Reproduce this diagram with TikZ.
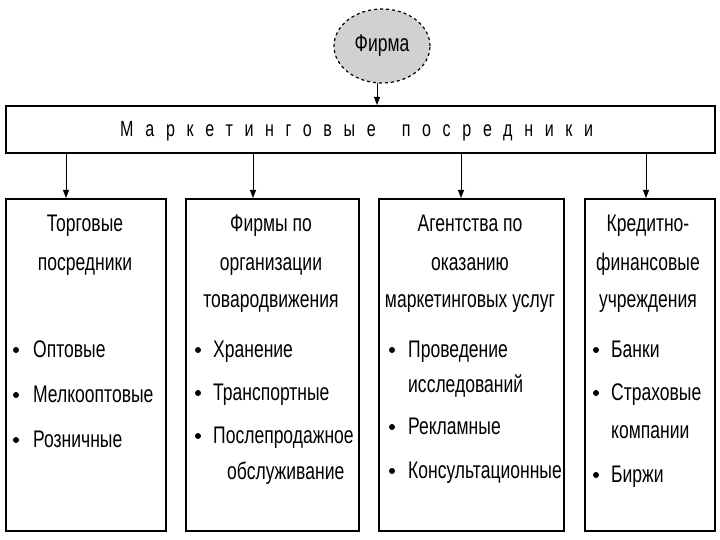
\documentclass[tikz,border=0pt]{standalone}
\usepackage{fontspec}
\setmainfont{Liberation Sans}[FakeStretch=0.73]
\usetikzlibrary{arrows.meta,shapes.geometric}
\begin{document}
\begin{tikzpicture}[x=1pt,y=-1pt,
  box/.style={draw=black,line width=1.6pt},
  txt/.style={inner sep=0pt,anchor=base,font=\fontsize{24}{28}\selectfont},
  itm/.style={inner sep=0pt,anchor=base west,font=\fontsize{24}{28}\selectfont},
  bul/.style={circle,fill=black,inner sep=0pt,minimum size=6pt},
  arr/.style={-{Triangle[length=8pt,width=6pt]},line width=0.8pt}]
\useasboundingbox (0,0) rectangle (720,540);
% firm ellipse
\node[ellipse,draw=black,dashed,line width=1.2pt,fill=black!18,minimum width=96pt,minimum height=74pt,inner sep=0pt,font=\fontsize{24}{28}\selectfont] (firm) at (382,46) {Фирма};
% top box
\node[box,minimum width=709pt,minimum height=47pt,inner sep=0pt,anchor=north west] (top) at (5,105) {};
\node[inner sep=0pt,anchor=base west,font=\fontsize{22}{26}\selectfont\addfontfeature{LetterSpace=53}] (title) at (120,137) {Маркетинговые\hspace{26pt}посредники};
\coordinate (ftop) at (377,105);
\draw[arr] (377,83) -- (ftop);
% bottom boxes
\node[box,minimum width=160pt,minimum height=332pt,inner sep=0pt,anchor=north west] (b1) at (5,198) {};
\node[box,minimum width=173pt,minimum height=332pt,inner sep=0pt,anchor=north west] (b2) at (185,198) {};
\node[box,minimum width=185pt,minimum height=332pt,inner sep=0pt,anchor=north west] (b3) at (378,198) {};
\node[box,minimum width=130pt,minimum height=332pt,inner sep=0pt,anchor=north west] (b4) at (584,198) {};
\draw[arr] (top.south -| 66,0) -- (b1.north -| 66,0);
\draw[arr] (top.south -| 253,0) -- (b2.north -| 253,0);
\draw[arr] (top.south -| 461,0) -- (b3.north -| 461,0);
\draw[arr] (top.south -| 646,0) -- (b4.north -| 646,0);
% box 1
\node[txt] (t11) at (85,232) {Торговые};
\node[txt] (t12) at (85,270) {посредники};
\node[bul] (p11) at (16,350) {}; \node[itm] (i11) at (33,357) {Оптовые};
\node[bul] (p12) at (16,395) {}; \node[itm] (i12) at (33,402) {Мелкооптовые};
\node[bul] (p13) at (16,440) {}; \node[itm] (i13) at (33,447) {Розничные};
% box 2
\node[txt] (t21) at (271,232) {Фирмы по};
\node[txt] (t22) at (271,270) {организации};
\node[txt] (t23) at (271,307) {товародвижения};
\node[bul] (p21) at (198,350) {}; \node[itm] (i21) at (213,357) {Хранение};
\node[bul] (p22) at (198,393) {}; \node[itm] (i22) at (213,400) {Транспортные};
\node[bul] (p23) at (198,436) {}; \node[itm] (i23) at (213,443) {Послепродажное};
\node[itm] (i24) at (227,479) {обслуживание};
% box 3
\node[txt] (t31) at (470,232) {Агентства по};
\node[txt] (t32) at (470,270) {оказанию};
\node[txt] (t33) at (470,307) {маркетинговых услуг};
\node[bul] (p31) at (392,350) {}; \node[itm] (i31) at (408,357) {Проведение};
\node[itm] (i32) at (408,392) {исследований};
\node[bul] (p33) at (392,427) {}; \node[itm] (i33) at (408,434) {Рекламные};
\node[bul] (p34) at (392,471) {}; \node[itm] (i34) at (408,478) {Консультационные};
% box 4
\node[txt] (t41) at (648,232) {Кредитно-};
\node[txt] (t42) at (648,270) {финансовые};
\node[txt] (t43) at (648,307) {учреждения};
\node[bul] (p41) at (596,350) {}; \node[itm] (i41) at (611,357) {Банки};
\node[bul] (p42) at (596,393) {}; \node[itm] (i42) at (611,400) {Страховые};
\node[itm] (i43) at (611,438) {компании};
\node[bul] (p44) at (596,475) {}; \node[itm] (i44) at (611,482) {Биржи};
\end{tikzpicture}
\end{document}
